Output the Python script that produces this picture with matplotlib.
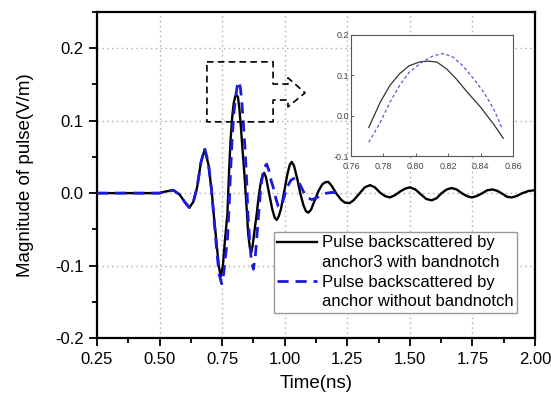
import numpy as np
import matplotlib
matplotlib.use("Agg")
import matplotlib.pyplot as plt
from matplotlib.lines import Line2D
from matplotlib.ticker import MultipleLocator

plt.rcParams['font.family'] = ['Liberation Sans', 'DejaVu Sans']

# ---- data ----
t_black = [0.25, 0.45, 0.50, 0.52, 0.555, 0.58, 0.60, 0.619, 0.635, 0.65, 0.665, 0.680,
           0.695, 0.708, 0.718, 0.728, 0.737, 0.745, 0.753, 0.762, 0.771, 0.778, 0.784,
           0.790, 0.796, 0.803, 0.808, 0.813, 0.819, 0.825, 0.831, 0.840, 0.848, 0.854,
           0.861, 0.866, 0.872, 0.880, 0.888, 0.897, 0.905, 0.912, 0.918, 0.925, 0.933,
           0.941, 0.950, 0.960, 0.968, 0.976, 0.985, 0.998, 1.010, 1.020, 1.028, 1.037,
           1.050, 1.062, 1.075, 1.085, 1.094, 1.105, 1.120, 1.135, 1.150, 1.162, 1.174,
           1.188, 1.205, 1.225, 1.240, 1.258, 1.275, 1.300, 1.320, 1.341, 1.360, 1.380,
           1.400, 1.420, 1.440, 1.460, 1.480, 1.500, 1.522, 1.545, 1.565, 1.587, 1.607,
           1.627, 1.647, 1.667, 1.687, 1.707, 1.727, 1.747, 1.768, 1.790, 1.810, 1.831,
           1.850, 1.870, 1.888, 1.907, 1.927, 1.950, 1.975, 2.000]
v_black = [0.0, 0.0, 0.0, 0.002, 0.004, -0.002, -0.012, -0.020, -0.012, 0.008, 0.042, 0.060,
           0.040, 0.003, -0.035, -0.070, -0.102, -0.115, -0.100, -0.062, -0.029, 0.033, 0.075,
           0.104, 0.124, 0.134, 0.135, 0.133, 0.116, 0.091, 0.062, 0.021, -0.021, -0.056,
           -0.076, -0.082, -0.072, -0.050, -0.029, -0.002, 0.016, 0.025, 0.028, 0.022, 0.008,
           -0.006, -0.022, -0.034, -0.037, -0.032, -0.022, 0.002, 0.025, 0.039, 0.043, 0.038,
           0.020, 0.000, -0.017, -0.025, -0.027, -0.023, -0.010, 0.003, 0.012, 0.015, 0.0155,
           0.010, 0.000, -0.009, -0.013, -0.014, -0.010, 0.000, 0.008, 0.011, 0.008, 0.001,
           -0.004, -0.006, -0.003, 0.002, 0.006, 0.008, 0.005, -0.002, -0.008, -0.010, -0.007,
           0.000, 0.005, 0.007, 0.005, 0.000, -0.004, -0.006, -0.004, 0.000, 0.004, 0.005,
           0.003, -0.001, -0.005, -0.006, -0.004, 0.000, 0.003, 0.004]

t_blue = [0.25, 0.45, 0.50, 0.52, 0.555, 0.58, 0.60, 0.619, 0.635, 0.65, 0.665, 0.680,
          0.695, 0.708, 0.718, 0.728, 0.738, 0.748, 0.756, 0.764, 0.771, 0.778, 0.784,
          0.790, 0.796, 0.804, 0.811, 0.817, 0.823, 0.829, 0.835, 0.842, 0.848, 0.853,
          0.860, 0.867, 0.875, 0.883, 0.894, 0.902, 0.908, 0.918, 0.928, 0.938, 0.946,
          0.954, 0.965, 0.974, 0.981, 0.990, 1.008, 1.025, 1.041, 1.058, 1.075, 1.090,
          1.108, 1.125, 1.145, 1.168, 1.190, 1.215]
v_blue = [0.0, 0.0, 0.0, 0.002, 0.004, -0.002, -0.012, -0.020, -0.012, 0.008, 0.042, 0.062,
          0.042, 0.003, -0.038, -0.078, -0.112, -0.125, -0.112, -0.085, -0.066, -0.017, 0.033,
          0.075, 0.108, 0.133, 0.149, 0.154, 0.145, 0.124, 0.095, 0.058, 0.017, -0.029,
          -0.065, -0.095, -0.105, -0.085, -0.037, -0.002, 0.017, 0.036, 0.040, 0.030, 0.017,
          0.008, -0.008, -0.018, -0.020, -0.014, 0.007, 0.018, 0.021, 0.014, 0.002, -0.006,
          -0.009, -0.007, -0.002, 0.000, 0.001, 0.000]

label_black = ["Pulse backscattered by", "anchor3 with bandnotch"]
label_blue = ["Pulse backscattered by", "anchor without bandnotch"]
x_label = "Time(ns)"
y_label = "Magnitude of pulse(V/m)"
inset_range = (0.771, 0.8545)

t_black = np.array(t_black); v_black = np.array(v_black)
t_blue = np.array(t_blue); v_blue = np.array(v_blue)

fig = plt.figure(figsize=(5.51, 4.00), dpi=100)
ax = fig.add_axes([97/551, 62/400, 438/551, 326/400])

ax.plot(t_black, v_black, color='black', lw=1.7, zorder=3)
ax.plot(t_blue, v_blue, color='#1a1adb', lw=2.0, ls=(0, (4, 2.5)), zorder=4)

ax.set_xlim(0.25, 2.00)
ax.set_ylim(-0.2, 0.25)
ax.xaxis.set_minor_locator(MultipleLocator(0.125))
ax.yaxis.set_minor_locator(MultipleLocator(0.05))
ax.set_xticks(np.arange(0.25, 2.01, 0.25))
ax.set_xticklabels(["%.2f" % v for v in np.arange(0.25, 2.01, 0.25)])
ax.set_yticks([-0.2, -0.1, 0.0, 0.1, 0.2])
ax.set_yticklabels(["-0.2", "-0.1", "0.0", "0.1", "0.2"])
ax.tick_params(which='major', direction='out', length=6, width=1.3, labelsize=12, colors='black')
ax.tick_params(which='minor', direction='out', length=3.5, width=1.3)
ax.tick_params(axis='x', pad=4)
for s in ax.spines.values():
    s.set_linewidth(1.6)
ax.grid(True, which='major', color='#aaaaaa', ls=(0, (1, 2.5)), lw=1.0)
ax.set_axisbelow(True)
ax.set_xlabel(x_label, fontsize=13.5, labelpad=6)
ax.set_ylabel(y_label, fontsize=13.5, labelpad=15)

# dashed callout box with arrow (axes fraction)
callout = [(0.251, 0.847), (0.402, 0.847), (0.402, 0.779), (0.436, 0.779), (0.436, 0.798),
           (0.475, 0.752), (0.436, 0.709), (0.436, 0.730), (0.402, 0.730), (0.402, 0.663),
           (0.251, 0.663), (0.251, 0.847)]
cx, cy = zip(*callout)
ax.plot(cx, cy, transform=ax.transAxes, color='black', lw=1.2, ls=(0, (4, 2.5)), zorder=5)

# legend
h_black = Line2D([], [], color='black', lw=1.7)
h_blue = Line2D([], [], color='#1a1adb', lw=2.0, ls=(0, (4, 2.5)))
h_none = Line2D([], [], color='none')
leg = ax.legend([h_black, h_none, h_blue, h_none],
                [label_black[0], label_black[1], label_blue[0], label_blue[1]],
                loc='upper right', bbox_to_anchor=(0.959, 0.325), borderaxespad=0,
                fontsize=12, handlelength=2.4, handletextpad=0.3, labelspacing=0.28,
                borderpad=0.2, frameon=True, fancybox=False, framealpha=1)
leg.get_frame().set_edgecolor('#999999')
leg.get_frame().set_linewidth(1.0)
leg.set_zorder(6)

# inset
ax2 = fig.add_axes([351/551, 244/400, 162/551, 121/400])
mb = (t_black >= inset_range[0]) & (t_black <= inset_range[1])
mu = (t_blue >= inset_range[0]) & (t_blue <= inset_range[1])
ax2.plot(t_black[mb], v_black[mb], color='#333333', lw=0.9)
ax2.plot(t_blue[mu], v_blue[mu], color='#5555dd', lw=0.9, ls=(0, (2.5, 2)))
ax2.set_xlim(0.76, 0.86)
ax2.set_ylim(-0.1, 0.2)
ax2.set_xticks(np.arange(0.76, 0.861, 0.02))
ax2.set_xticklabels(["%.2f" % v for v in np.arange(0.76, 0.861, 0.02)])
ax2.set_yticks([-0.1, 0.0, 0.1, 0.2])
ax2.set_yticklabels(["-0.1", "0.0", "0.1", "0.2"])
ax2.tick_params(direction='in', length=2, width=0.6, labelsize=6.5, colors='#444444', pad=1.5)
ax2.tick_params(axis='x', pad=4)
for s in ax2.spines.values():
    s.set_linewidth(0.8)
    s.set_color('#555555')

fig.savefig("out.png", dpi=100)
